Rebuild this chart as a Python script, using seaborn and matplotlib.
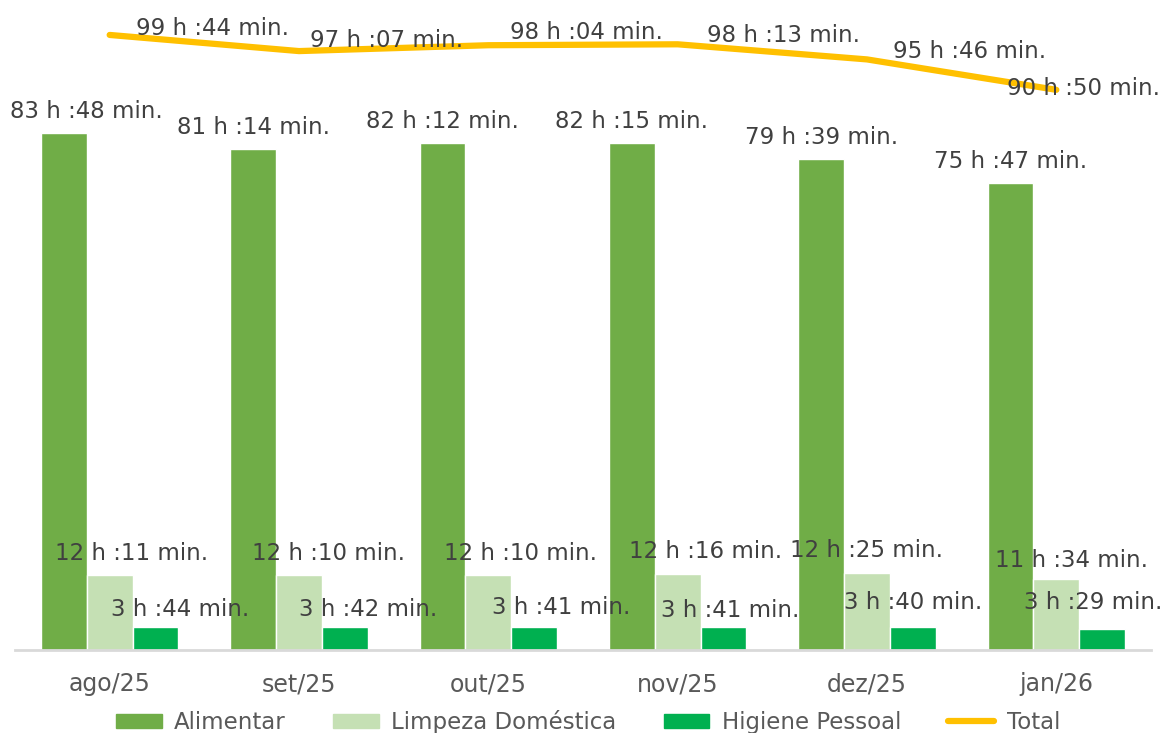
import matplotlib
matplotlib.use("Agg")
import matplotlib.pyplot as plt
import numpy as np
import pandas as pd
import seaborn as sns

meses = ["ago/25", "set/25", "out/25", "nov/25", "dez/25", "jan/26"]
alimentar = ["83:48", "81:14", "82:12", "82:15", "79:39", "75:47"]
limpeza = ["12:11", "12:10", "12:10", "12:16", "12:25", "11:34"]
higiene = ["3:44", "3:42", "3:41", "3:41", "3:40", "3:29"]
total = ["99:44", "97:07", "98:04", "98:13", "95:46", "90:50"]

series = {
    "Alimentar": alimentar,
    "Limpeza Doméstica": limpeza,
    "Higiene Pessoal": higiene,
}
cores = {
    "Alimentar": "#70AD47",
    "Limpeza Doméstica": "#C5E0B4",
    "Higiene Pessoal": "#00B050",
}
cor_total = "#FFC000"

# label nudges in pixels (dx, dy), as placed in the original chart
nudge_bars = {
    "Alimentar": [(0, 0)] * 6,
    "Limpeza Doméstica": [(22, 0), (30, 0), (32, 0), (28, 1), (0, 1), (15, -3)],
    "Higiene Pessoal": [(25, -4), (23, -4), (27, -2), (7, -5), (0, 3), (0, 5)],
}
nudge_total = [(103, 6), (88, 11), (98, 13), (106, 9), (103, 8), (27, 1)]


def to_hours(s):
    h, m = s.split(":")
    return int(h) + int(m) / 60


def fmt(s):
    h, m = s.split(":")
    return f"{int(h)} h :{m} min."


rows = []
for nome, vals in series.items():
    for mes, v in zip(meses, vals):
        rows.append({"mes": mes, "horas": to_hours(v), "categoria": nome})
df = pd.DataFrame(rows)

sns.set_theme(style="white")
plt.rcParams["font.family"] = ["DejaVu Sans"]

fig = plt.figure(figsize=(11.64, 7.33), dpi=100)
ax = fig.add_axes([15 / 1164, 83 / 733, 1136 / 1164, 650 / 733])

sns.barplot(
    data=df, x="mes", y="horas", hue="categoria", order=meses,
    hue_order=list(series), palette=cores, width=0.725, gap=0,
    saturation=1, ax=ax, legend=False,
)

for cont, (nome, vals) in zip(ax.containers, series.items()):
    for bar, v, (dx, dy) in zip(cont, vals, nudge_bars[nome]):
        ax.annotate(fmt(v), (bar.get_x() + bar.get_width() / 2, bar.get_height()),
                    xytext=(dx, 10 + dy), textcoords="offset pixels",
                    ha="center", va="bottom", fontsize=16.5, color="#404040")

tot_h = [to_hours(v) for v in total]
sns.lineplot(x=np.arange(len(meses)), y=tot_h, color=cor_total,
             linewidth=4.5, ax=ax, solid_capstyle="round")
for i, (v, (dx, dy)) in enumerate(zip(total, nudge_total)):
    ax.annotate(fmt(v), (i, tot_h[i]), xytext=(dx, dy),
                textcoords="offset pixels", ha="center", va="center",
                fontsize=16.5, color="#404040")

ax.set_xlim(-0.5, len(meses) - 0.5)
ax.set_ylim(0, 105.4)
ax.set_xlabel("")
ax.set_ylabel("")
ax.set_yticks([])
for s in ["top", "right", "left"]:
    ax.spines[s].set_visible(False)
ax.spines["bottom"].set_color("#D9D9D9")
ax.spines["bottom"].set_linewidth(2)
ax.tick_params(axis="x", length=0, pad=16, labelsize=17, labelcolor="#595959")

handles = [plt.Rectangle((0, 0), 1, 1, color=cores[n]) for n in series]
handles.append(plt.Line2D([0], [0], color=cor_total, linewidth=4.5))
fig.legend(handles, list(series) + ["Total"], loc="center",
           bbox_to_anchor=(588 / 1164, 11 / 733), ncol=4, frameon=False,
           fontsize=16.5, labelcolor="#595959", handlelength=2.0,
           handleheight=0.6, columnspacing=2.05, handletextpad=0.55)

# keep labels inside the picture, like the spreadsheet does
fig.canvas.draw()
W = fig.bbox.width
for t in ax.texts:
    bb = t.get_window_extent()
    dx, dy = t.xyann
    if bb.x0 < 10:
        t.xyann = (dx + 10 - bb.x0, dy)
    elif bb.x1 > W - 2:
        t.xyann = (dx - (bb.x1 - (W - 2)), dy)

fig.savefig("out.png", dpi=100)
